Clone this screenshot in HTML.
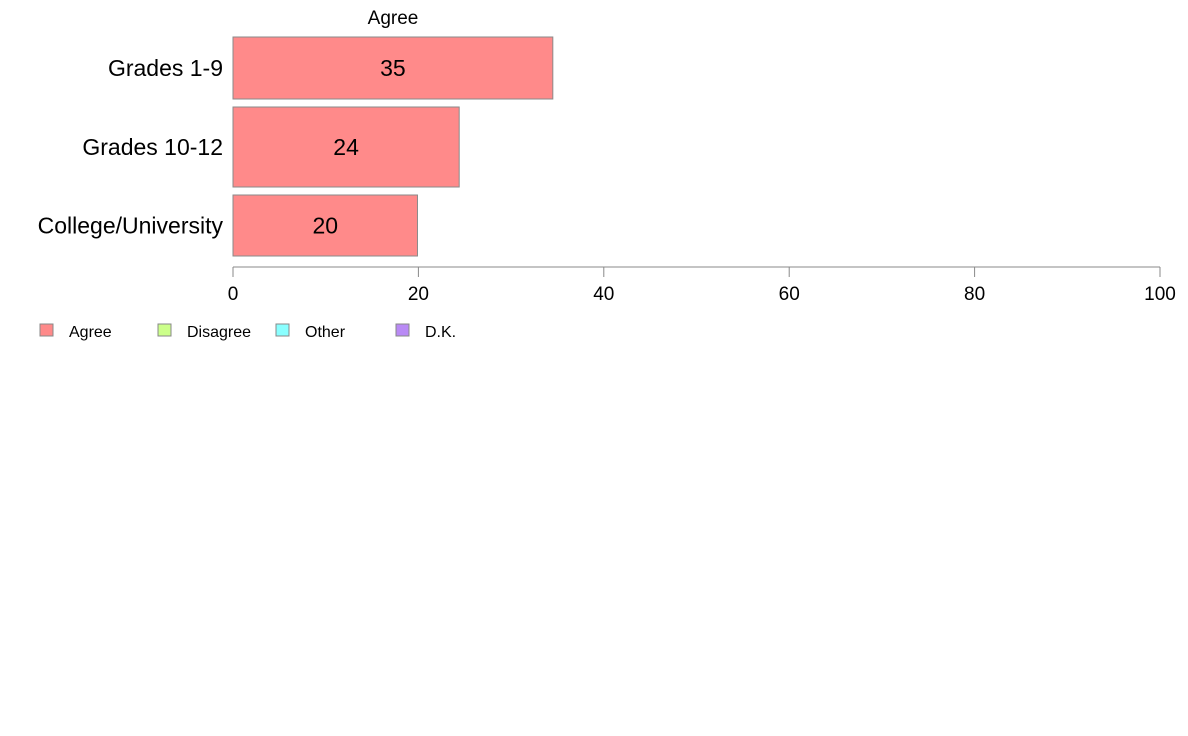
<!DOCTYPE html>
<html><head><meta charset="utf-8"><style>
body{margin:0;background:#fff;font-family:"Liberation Sans",Arial,sans-serif}
svg{display:block}
</style></head><body>
<svg id="chart" width="1188" height="736">
<text x="393" y="24" font-size="19" text-anchor="middle">Agree</text>
<g id="bars"></g>
<g id="axis"></g>
<g id="legend"></g>
</svg>
<script>
const categories = ["Grades 1-9", "Grades 10-12", "College/University"];
const values = [34.5, 24.4, 19.9];
const valueLabels = ["35", "24", "20"];
const ticks = [0, 20, 40, 60, 80, 100];
const legendLabels = ["Agree", "Disagree", "Other", "D.K."];
const legendColors = ["#ff8a8a", "#ccff8a", "#8affff", "#b98af5"];

const NS = "http://www.w3.org/2000/svg";
const x0 = 233, x1 = 1160;
const xs = v => x0 + (v / 100) * (x1 - x0);
const rows = [[37, 62], [107, 80], [195, 61]];
function mk(tag, attrs, parent) {
  const e = document.createElementNS(NS, tag);
  for (const k in attrs) e.setAttribute(k, attrs[k]);
  parent.appendChild(e);
  return e;
}
const gb = document.getElementById("bars");
categories.forEach((c, i) => {
  const [top, h] = rows[i];
  const r = mk("rect", {x: x0, y: top, width: xs(values[i]) - x0, height: h, fill: "#ff8a8a", stroke: "#8a8a8a", "stroke-width": 1}, gb);
  
  
  const t = mk("text", {x: (x0 + xs(values[i])) / 2, y: top + h / 2 + 8, "font-size": 23, "text-anchor": "middle"}, gb);
  t.textContent = valueLabels[i];
  
  
  const l = mk("text", {x: 223, y: top + h / 2 + 8, "font-size": 23, "text-anchor": "end"}, gb);
  l.textContent = c;
  
  
});
const ga = document.getElementById("axis");
const al = mk("line", {x1: x0, x2: x1, y1: 267, y2: 267, stroke: "#888", "stroke-width": 1}, ga);


ticks.forEach(v => {
  const tk = mk("line", {x1: xs(v), x2: xs(v), y1: 267, y2: 277, stroke: "#888", "stroke-width": 1}, ga);
  
  
  const t = mk("text", {x: xs(v), y: 300, "font-size": 19, "text-anchor": "middle"}, ga);
  t.textContent = v;
  
  
});
const gl = document.getElementById("legend");
const lx = [40, 158, 276, 396];
legendLabels.forEach((lab, i) => {
  const r = mk("rect", {x: lx[i], y: 324, width: 13, height: 12, fill: legendColors[i], stroke: "#888", "stroke-width": 1}, gl);
  
  
  const t = mk("text", {x: lx[i] + 29, y: 337, "font-size": 16}, gl);
  t.textContent = lab;
  
  
});
</script>
</body></html>
